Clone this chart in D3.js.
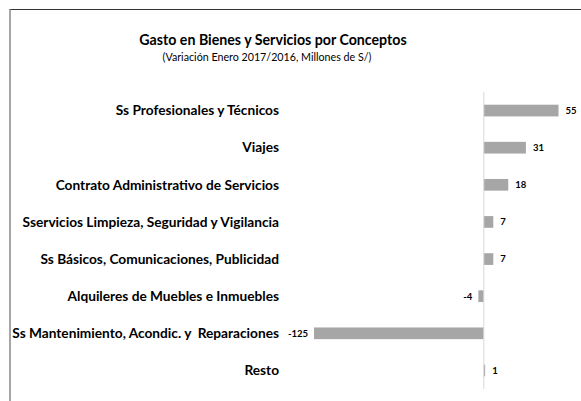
<!DOCTYPE html>
<html><head><meta charset="utf-8">
<script src="https://cdn.jsdelivr.net/npm/d3@7"></script>
<style>
body{margin:0;background:#fff;}
text{font-family:Lato,"Open Sans",sans-serif;white-space:pre;}
</style></head>
<body><svg id="c" width="581" height="401"></svg>
<script>
const categories = [
  "Ss Profesionales y Técnicos",
  "Viajes",
  "Contrato Administrativo de Servicios",
  "Sservicios Limpieza, Seguridad y Vigilancia",
  "Ss Básicos, Comunicaciones, Publicidad",
  "Alquileres de Muebles e Inmuebles",
  "Ss Mantenimiento, Acondic. y  Reparaciones",
  "Resto"
];
const values = [55, 31, 18, 7, 7, -4, -125, 1];
const title = "Gasto en Bienes y Servicios por Conceptos";
const subtitle = "(Variación Enero 2017/2016, Millones de S/)";

const svg = d3.select("#c");
svg.append("rect").attr("width",581).attr("height",401).attr("fill","#fff");
// frame
svg.append("line").attr("x1",9.5).attr("x2",581).attr("y1",9.5).attr("y2",9.5).attr("stroke","#333").attr("stroke-width",1);
svg.append("line").attr("x1",10).attr("x2",10).attr("y1",9).attr("y2",401).attr("stroke","#888").attr("stroke-width",1.5);

svg.append("text").attr("x",273).attr("y",45).attr("text-anchor","middle")
  .attr("font-weight","bold").attr("font-size",14.2).attr("fill","#000").text(title);
svg.append("text").attr("x",267).attr("y",61).attr("text-anchor","middle")
  .attr("font-size",10.7).attr("fill","#000").text(subtitle);

const x = d3.scaleLinear().domain([-125, 55]).range([314, 558.5]);
const y = d3.scaleBand().domain(categories).range([92, 389]).paddingInner(0.685).paddingOuter(0.3425);

svg.append("g").selectAll("rect").data(values).join("rect")
  .attr("x", d => x(Math.min(0,d)))
  .attr("width", d => Math.abs(x(d)-x(0)))
  .attr("y", (d,i) => y(categories[i]))
  .attr("height", y.bandwidth())
  .attr("fill", "#a6a6a6");

svg.append("line").attr("x1",x(0)).attr("x2",x(0)).attr("y1",92).attr("y2",389)
  .attr("stroke","#d9d9d9").attr("stroke-width",1);

svg.append("g").selectAll("text").data(categories).join("text")
  .attr("x", 279)
  .attr("y", d => y(d) + y.bandwidth()/2)
  .attr("dy","0.35em")
  .attr("text-anchor","end")
  .attr("font-weight","bold").attr("font-size",13.7).attr("fill","#000")
  .text(d => d);

svg.append("g").selectAll("text").data(values).join("text")
  .attr("x", d => d >= 0 ? x(d) + 7 : x(d) - 6)
  .attr("y", (d,i) => y(categories[i]) + y.bandwidth()/2)
  .attr("dy","0.35em")
  .attr("text-anchor", d => d >= 0 ? "start" : "end")
  .attr("font-weight","bold").attr("font-size",9.5).attr("fill","#000")
  .text(d => d);
</script></body></html>
